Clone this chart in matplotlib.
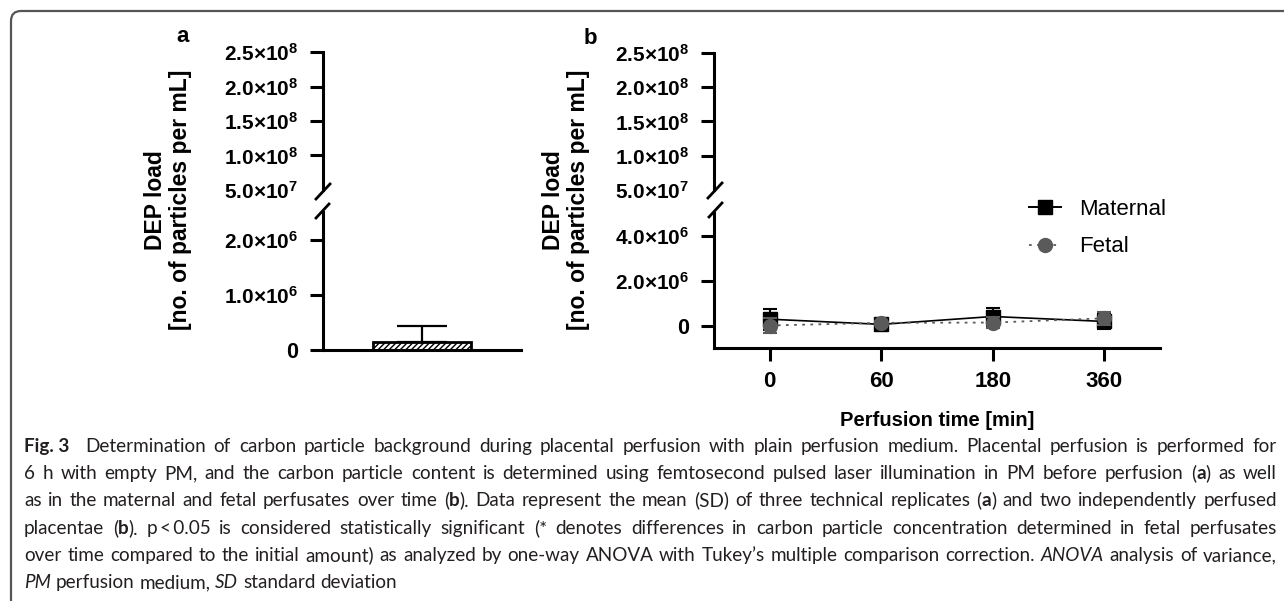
import re
import numpy as np
import matplotlib
matplotlib.use("Agg")
import matplotlib.pyplot as plt
from matplotlib import font_manager as fm
from matplotlib.path import Path
from matplotlib.patches import PathPatch
from matplotlib.lines import Line2D

# ---------------- data ----------------
a_category = ["PM"]
a_mean = [0.15e6]
a_sd = [0.28e6]

time_labels = ["0", "60", "180", "360"]
maternal_mean = [0.28e6, 0.05e6, 0.40e6, 0.18e6]
maternal_sd = [0.47e6, 0.10e6, 0.40e6, 0.35e6]
fetal_mean = [0.0, 0.12e6, 0.13e6, 0.32e6]
fetal_sd = [0.35e6, 0.08e6, 0.25e6, 0.30e6]

upper_ticks = [5e7, 1e8, 1.5e8, 2e8, 2.5e8]
a_lower_ticks = [0, 1e6, 2e6]
b_lower_ticks = [0, 2e6, 4e6]

ylabel_text = "DEP load\n[no. of particles per mL]"
xlabel_text = "Perfusion time [min]"
series_names = ["Maternal", "Fetal"]

caption_lines = [
    "**Fig.\u00a03** Determination of carbon particle background during placental perfusion with plain perfusion medium. Placental perfusion is performed for",
    "6 h with empty PM, and the carbon particle content is determined using femtosecond pulsed laser illumination in PM before perfusion (**a**) as well",
    "as in the maternal and fetal perfusates over time (**b**). Data represent the mean (SD) of three technical replicates (**a**) and two independently perfused",
    "placentae (**b**). p\u2009<\u20090.05 is considered statistically significant (* denotes differences in carbon particle concentration determined in fetal perfusates",
    "over time compared to the initial amount) as analyzed by one-way ANOVA with Tukey\u2019s multiple comparison correction. _ANOVA_ analysis of variance,",
    "_PM_ perfusion medium, _SD_ standard deviation",
]

# ---------------- style ----------------
plt.rcParams["font.family"] = ["Liberation Sans", "DejaVu Sans"]
plt.rcParams["mathtext.fontset"] = "custom"
plt.rcParams["mathtext.rm"] = "Liberation Sans:bold"
plt.rcParams["mathtext.bf"] = "Liberation Sans:bold"
plt.rcParams["mathtext.it"] = "Liberation Sans:bold"
plt.rcParams["hatch.linewidth"] = 1.0

W, H = 1284, 601
fig = plt.figure(figsize=(W / 100, H / 100), dpi=100)


def rect(x0, y0, x1, y1):
    return [x0 / W, 1 - y1 / H, (x1 - x0) / W, (y1 - y0) / H]


def fx(x):
    return x / W


def fy(y):
    return 1 - y / H


def sci(v):
    if v == 0:
        return "0"
    e = int(np.floor(np.log10(v)))
    m = v / 10 ** e
    return r"$\mathbf{%.1f{\times}10^{%d}}$" % (m, e)


SPINE_LW = 2.2
TICK_LEN = 9.5


def style_axis(ax, bottom=True):
    for s in ["top", "right"]:
        ax.spines[s].set_visible(False)
    ax.spines["left"].set_linewidth(SPINE_LW)
    ax.spines["bottom"].set_linewidth(SPINE_LW)
    if not bottom:
        ax.spines["bottom"].set_visible(False)
        ax.tick_params(axis="x", bottom=False, labelbottom=False)
    ax.tick_params(axis="both", direction="out", length=TICK_LEN, width=SPINE_LW)
    ax.tick_params(axis="y", pad=8.5)
    ax.patch.set_alpha(0)


def set_yticks(ax, ticks):
    ax.set_yticks(ticks)
    ax.set_yticklabels([sci(t) for t in ticks])
    for t, lab in zip(ticks, ax.get_yticklabels()):
        lab.set_fontsize(15.5 if t == 0 else 15)
        lab.set_fontweight("bold")


# ---------------- panel a ----------------
a_up = fig.add_axes(rect(323, 52, 521, 190))
a_lo = fig.add_axes(rect(323, 212, 521, 350))
for ax in (a_up, a_lo):
    ax.set_xlim(-1, 1)
style_axis(a_up, bottom=False)
style_axis(a_lo, bottom=True)
a_up.set_ylim(upper_ticks[0], upper_ticks[-1])
set_yticks(a_up, upper_ticks)
a_up.yaxis.get_major_ticks()[0].tick1line.set_visible(False)
a_lo.set_ylim(0, 2.5e6)
set_yticks(a_lo, a_lower_ticks)
a_lo.tick_params(axis="x", bottom=False, labelbottom=False)
xa = np.arange(len(a_category))
a_lo.bar(xa, a_mean, width=0.99, color="white", edgecolor="black",
         linewidth=2.0, hatch="//////", zorder=2)
a_lo.errorbar(xa, a_mean, yerr=[[0] * len(a_sd), a_sd], fmt="none",
              ecolor="black", elinewidth=1.6, capsize=18, capthick=1.6, zorder=3)

# ---------------- panel b ----------------
b_up = fig.add_axes(rect(714, 53, 1160, 190))
b_lo = fig.add_axes(rect(714, 213, 1160, 348))
xb = np.arange(len(time_labels))
for ax in (b_up, b_lo):
    ax.set_xlim(-0.5, len(time_labels) - 0.5)
style_axis(b_up, bottom=False)
style_axis(b_lo, bottom=True)
b_up.set_ylim(upper_ticks[0], upper_ticks[-1])
set_yticks(b_up, upper_ticks)
b_up.yaxis.get_major_ticks()[0].tick1line.set_visible(False)
b_lo.set_ylim(-1e6, 5e6)
set_yticks(b_lo, b_lower_ticks)
b_lo.set_xticks(xb)
b_lo.set_xticklabels(time_labels, fontsize=16, fontweight="bold")
b_lo.tick_params(axis="x", pad=7)
b_lo.set_xlabel(xlabel_text, fontsize=14.5, fontweight="bold", labelpad=14)

b_lo.errorbar(xb, maternal_mean, yerr=maternal_sd, fmt="-s", color="black",
              ms=9.5, lw=1.2, elinewidth=1.5, capsize=5, capthick=1.5, zorder=3)
b_lo.errorbar(xb, fetal_mean, yerr=fetal_sd, fmt="o", color="#5a5a5a",
              ms=10, elinewidth=1.5, capsize=5, capthick=1.5, zorder=4)
b_lo.plot(xb, fetal_mean, linestyle=(0, (1.5, 3)), color="#5a5a5a", lw=1.3, zorder=4)

handles = [
    Line2D([], [], color="black", marker="s", ms=9.5, lw=1.4, linestyle="-"),
    Line2D([], [], color="#5a5a5a", marker="o", ms=10, lw=1.3, linestyle=(0, (1.5, 3))),
]
fig.legend(handles, series_names, loc="center left",
           bbox_to_anchor=(fx(1029), fy(228)), frameon=False, fontsize=16,
           handlelength=1.45, handletextpad=0.8, labelspacing=0.75,
           borderpad=0, borderaxespad=0)

# ---------------- labels, letters, breaks ----------------
for cx in (168, 566):
    fig.text(fx(cx), fy(200), ylabel_text, rotation=90, ha="center", va="center",
             fontsize=16.5, fontweight="bold", linespacing=1.1, multialignment="center")
fig.text(fx(183), fy(37), "a", ha="center", va="center", fontsize=16, fontweight="bold")
fig.text(fx(590), fy(38), "b", ha="center", va="center", fontsize=16, fontweight="bold")

for (x0, y0, x1, y1) in [(316, 199, 330, 184), (316, 218, 329, 204),
                         (708, 198, 722, 183), (709, 217, 722, 203)]:
    fig.add_artist(Line2D([fx(x0), fx(x1)], [fy(y0), fy(y1)], color="black",
                          lw=2.0, transform=fig.transFigure))

# ---------------- frame ----------------
verts = [(11, 620), (11, 21), (11, 11), (21, 11), (1300, 11)]
codes = [Path.MOVETO, Path.LINETO, Path.CURVE3, Path.CURVE3, Path.LINETO]
fverts = [(fx(x), fy(y)) for x, y in verts]
fig.add_artist(PathPatch(Path(fverts, codes), facecolor="none", edgecolor="#555555",
                         lw=1.6, transform=fig.transFigure))


# ---------------- caption ----------------
def _wnum(w):
    if isinstance(w, (int, float)):
        return w
    return fm.weight_dict.get(str(w).lower(), 400)


def _usable(name):
    reg = ital = bold = False
    for f in fm.fontManager.ttflist:
        if f.name != name:
            continue
        w = _wnum(f.weight)
        if 350 <= w <= 450 and f.style == "normal" and f.stretch in ("normal", 500):
            reg = True
        elif 350 <= w <= 450 and f.style in ("italic", "oblique"):
            ital = True
        elif w >= 600 and f.style == "normal":
            bold = True
    return reg and ital and bold


_cands = ["Liberation Sans Narrow", "Noto Sans SemiCondensed", "Open Sans SemiCondensed",
          "Roboto Condensed", "Lato", "Open Sans"]
CAP_FAMILY = next((c for c in _cands if _usable(c)), "Lato")
CAP_FONT = [CAP_FAMILY, "DejaVu Sans"]
CAP_COLOR = "#231f20"
renderer = fig.canvas.get_renderer()


def parse(line):
    pieces = []
    for tok in re.split(r"(\*\*.+?\*\*|_.+?_)", line):
        if not tok:
            continue
        if tok.startswith("**"):
            pieces.append((tok[2:-2], "bold"))
        elif tok.startswith("_") and tok.endswith("_") and len(tok) > 2:
            pieces.append((tok[1:-1], "italic"))
        else:
            pieces.append((tok, "normal"))
    words = [[]]
    for txt, st in pieces:
        parts = txt.split(" ")
        for i, p in enumerate(parts):
            if i > 0:
                words.append([])
            if p:
                words[-1].append((p, st))
    return [w for w in words if w]


def kw(st, size):
    d = dict(fontsize=size, family=CAP_FONT, color=CAP_COLOR, fontstretch="normal")
    if st == "bold":
        d["fontweight"] = "bold"
    elif st == "italic":
        d["fontstyle"] = "italic"
    return d


def width(txt, st, size):
    t = fig.text(0, 0, txt, **kw(st, size))
    w = t.get_window_extent(renderer).width
    t.remove()
    return w


def space_w(size):
    return width("a a", "normal", size) - width("aa", "normal", size)


parsed = [parse(l) for l in caption_lines]
LEFT, RIGHT = 24, 1277
target = RIGHT - LEFT
base = 14.0
sw = space_w(base)
nat = []
for words in parsed:
    ww = sum(width(t, s, base) for w in words for t, s in w)
    nat.append(ww + sw * (len(words) - 1) + 8)
size = min(base * min(target / n for n in nat[:5]) * 0.995, 14.5)

baselines = [452, 479, 506, 534, 561, 588]
sw = space_w(size)
for li, (words, yb) in enumerate(zip(parsed, baselines)):
    wlist = [[(t, s, width(t, s, size)) for t, s in w] for w in words]
    total = sum(p[2] for w in wlist for p in w)
    extra = 8 if li == 0 else 0
    if li < 5:
        gap = (target - total - extra) / (len(wlist) - 1)
    else:
        gap = sw
    x = LEFT
    for wi, w in enumerate(wlist):
        for t, s, pw in w:
            fig.text(fx(x), fy(yb), t, ha="left", va="baseline", **kw(s, size))
            x += pw
        x += gap
        if li == 0 and wi == 0:
            x += extra

fig.savefig("out.png", dpi=100)
